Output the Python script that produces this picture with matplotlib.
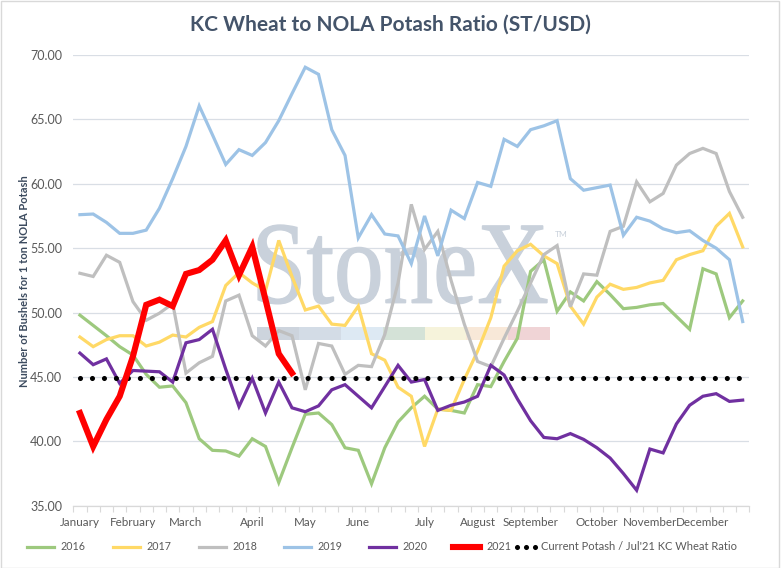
import matplotlib
matplotlib.use("Agg")
import matplotlib.pyplot as plt
import numpy as np
from matplotlib.lines import Line2D
from matplotlib.patches import Rectangle, PathPatch
from matplotlib.textpath import TextPath
from matplotlib.font_manager import FontProperties
from matplotlib.transforms import Affine2D, IdentityTransform

plt.rcParams['font.family'] = ['Lato', 'DejaVu Sans']

# ---------------- data ----------------
n_weeks = 51
month_names = ['January', 'February', 'March', 'April', 'May', 'June', 'July',
               'August', 'September', 'October', 'November', 'December']
month_pos = [0, 4, 8, 13, 17, 21, 26, 30, 34, 39, 43, 47]

y2016 = [49.8, 49.0, 48.2, 47.35, 46.7, 45.2, 44.2, 44.3, 43.0, 40.2, 39.3, 39.25, 38.85,
         40.2, 39.6, 36.8, 39.5, 42.1, 42.2, 41.3, 39.5, 39.3, 36.7, 39.5, 41.5, 42.6,
         43.5, 42.5, 42.4, 42.2, 44.4, 44.25, 46.2, 48.0, 53.2, 54.1, 50.1, 51.6, 50.9,
         52.4, 51.4, 50.3, 50.4, 50.6, 50.7, 49.7, 48.7, 53.4, 53.0, 49.6, 50.9]
y2017 = [48.1, 47.35, 47.9, 48.2, 48.2, 47.4, 47.7, 48.25, 48.1, 48.85, 49.3, 52.1, 53.1,
         52.3, 51.7, 55.6, 52.8, 50.2, 50.5, 49.1, 49.0, 50.5, 46.8, 46.3, 44.2, 43.5,
         39.6, 42.5, 42.4, 44.8, 47.0, 49.6, 53.6, 54.8, 55.3, 54.4, 53.8, 50.5, 49.1,
         51.2, 52.2, 51.8, 51.95, 52.3, 52.5, 54.1, 54.5, 54.8, 56.7, 57.7, 55.1]
y2018 = [53.05, 52.8, 54.45, 53.9, 50.85, 49.4, 49.95, 50.7, 45.3, 46.1, 46.6, 50.9, 51.35,
         48.2, 47.4, 48.6, 48.2, 44.0, 47.6, 47.4, 45.2, 45.9, 45.8, 48.3, 52.3, 58.4,
         54.9, 56.3, 52.5, 49.1, 46.2, 45.8, 48.0, 50.1, 52.3, 54.5, 55.2, 50.45, 53.0,
         52.9, 56.3, 56.7, 60.15, 58.6, 59.25, 61.45, 62.35, 62.75, 62.35, 59.4, 57.4]
y2019 = [57.6, 57.65, 57.0, 56.15, 56.15, 56.4, 58.1, 60.4, 62.9, 66.05, 63.8, 61.5, 62.65,
         62.2, 63.2, 64.9, 67.0, 69.05, 68.5, 64.2, 62.2, 55.8, 57.6, 56.1, 55.95, 53.8,
         57.5, 54.4, 57.95, 57.3, 60.1, 59.8, 63.45, 62.9, 64.2, 64.5, 64.9, 60.4, 59.5,
         59.7, 59.9, 56.0, 57.4, 57.1, 56.5, 56.2, 56.35, 55.6, 55.0, 54.1, 49.3]
y2020 = [46.85, 45.95, 46.4, 44.5, 45.5, 45.45, 45.4, 44.6, 47.65, 47.9, 48.7, 45.6, 42.7,
         44.9, 42.2, 44.6, 42.6, 42.3, 42.75, 44.0, 44.4, 43.5, 42.6, 44.25, 45.9, 44.6,
         44.8, 42.4, 42.8, 43.05, 43.5, 45.9, 45.15, 43.3, 41.6, 40.3, 40.2, 40.6, 40.15,
         39.5, 38.7, 37.5, 36.2, 39.4, 39.1, 41.35, 42.8, 43.5, 43.7, 43.1, 43.2]
y2021 = [42.2, 39.6, 41.7, 43.5, 46.6, 50.6, 51.0, 50.5, 53.0, 53.3, 54.1, 55.6, 52.9,
         55.1, 51.0, 46.8, 45.3]
current_ratio = 44.95

series_names = ['2016', '2017', '2018', '2019', '2020', '2021']
series_colors = ['#9DC97E', '#FFD966', '#BFBFBF', '#9DC3E6', '#7030A0', '#FF0000']
ratio_label = "Current Potash / Jul'21 KC Wheat Ratio"

# ---------------- figure ----------------
W, H = 782, 568
fig = plt.figure(figsize=(W / 100, H / 100), dpi=100)
fig.patch.set_facecolor('white')

ax_l, ax_r, ax_t, ax_b = 73.3, 749.3, 55.0, 505.7
ax = fig.add_axes([ax_l / W, 1 - ax_b / H, (ax_r - ax_l) / W, (ax_b - ax_t) / H])
ax.set_facecolor('none')

x = np.arange(n_weeks)
all_series = [y2016, y2017, y2018, y2019, y2020]
lw = 2.3
red_lw = 4.4
for vals, col in zip(all_series, series_colors[:5]):
    ax.plot(x[:len(vals)], vals, color=col, lw=lw, zorder=3, solid_joinstyle='miter')
ax.plot(x[:len(y2021)], y2021, color=series_colors[5], lw=red_lw, zorder=5,
        solid_joinstyle='miter')

dot_lw = 3.7
dot_style = (0, (0.001, 2.33))
ax.plot([x[0], x[-1]], [current_ratio, current_ratio], color='black', lw=dot_lw,
        linestyle=dot_style, dash_capstyle='round', zorder=4)

ax.set_xlim(-0.5, n_weeks - 0.5)
ax.set_ylim(35, 70)
ax.set_yticks(np.arange(35, 70.01, 5))
ax.set_yticklabels([f'{v:.2f}' for v in np.arange(35, 70.01, 5)])
ax.yaxis.grid(True, color='#D9DEE5', lw=0.9, zorder=0)
ax.set_axisbelow(True)
ax.set_xticks(month_pos)
ax.set_xticklabels(month_names)
ax.set_xticks(np.arange(-0.5, n_weeks, 1), minor=True)
ax.tick_params(axis='x', which='major', length=0, pad=8, labelsize=8.4, labelcolor='#595959')
ax.tick_params(axis='x', which='minor', length=4, width=0.8, color='#D9D9D9', direction='out')
ax.tick_params(axis='y', length=0, pad=8, labelsize=9, labelcolor='#595959')
for s in ['left', 'right', 'top']:
    ax.spines[s].set_visible(False)
ax.spines['bottom'].set_color('#D9D9D9')
ax.spines['bottom'].set_linewidth(0.9)

# ---------------- watermark ----------------
fp = FontProperties(family='Liberation Serif')
tp = TextPath((0, 0), "StoneX", size=100, prop=fp)
bb = tp.get_extents()
wx0, wx1 = 258.0, 547.0
w_base, w_top = H - 302.7, H - 225.0
sx = (wx1 - wx0) / bb.width
sy = (w_top - w_base) / bb.y1
tr = Affine2D().translate(-bb.x0, 0).scale(sx, sy).translate(wx0, w_base)
wm = PathPatch(tr.transform_path(tp), facecolor='#C9D1DB', edgecolor='#C9D1DB', lw=1.0,
               transform=IdentityTransform(), zorder=1)
ax.add_artist(wm)
ax.add_artist(plt.Text(555 / W, 1 - 237 / H, 'TM', fontsize=6, color='#C9D1DB',
                       transform=fig.transFigure, zorder=1))
bar_cols = ['#CDD4DD', '#D3DCE6', '#DDE9F3', '#D4E2D7', '#F6F3DB', '#F8E8D8', '#F0D4D6']
bx0, bx1 = 257.3, 550.0
seg = (bx1 - bx0) / len(bar_cols)
for k, c in enumerate(bar_cols):
    r = Rectangle(((bx0 + k * seg) / W, 1 - 340 / H), seg / W, 13 / H,
                  facecolor=c, edgecolor='none', transform=fig.transFigure, zorder=1)
    ax.add_artist(r)

# ---------------- texts ----------------
fig.text(390.5 / W, 1 - 25 / H, 'KC Wheat to NOLA Potash Ratio (ST/USD)',
         ha='center', va='center', fontsize=15, fontweight='bold', color='#44546A')
fig.text(25 / W, 1 - 281 / H, 'Number of Bushels for 1 ton NOLA Potash', rotation=90,
         ha='center', va='center', fontsize=8, fontweight='bold', color='#3B4A5E')

# ---------------- legend (placed manually, pixel positions) ----------------
leg_y = 1 - 547 / H
leg_line_x = [27, 113, 199, 284, 369, 453]
for k, (name, col) in enumerate(zip(series_names, series_colors)):
    x0 = leg_line_x[k]
    fig.add_artist(Line2D([x0 / W, (x0 + 27) / W], [leg_y, leg_y], color=col,
                          lw=red_lw if k == 5 else lw, transform=fig.transFigure))
    fig.text((x0 + 33) / W, leg_y, name, ha='left', va='center', fontsize=7.7,
             color='#595959')
fig.add_artist(Line2D([517 / W, 535 / W], [leg_y, leg_y], color='black', lw=dot_lw,
                      linestyle=(0, (0.001, 1.75)), dash_capstyle='round',
                      transform=fig.transFigure))
fig.text(541 / W, leg_y, ratio_label, ha='left', va='center', fontsize=8, color='#595959')

# ---------------- border ----------------
fig.add_artist(Rectangle((0.5 / W, 0.5 / H), (W - 4) / W, (H - 1.5) / H, fill=False,
                         edgecolor='#D9D9D9', lw=1, transform=fig.transFigure))

fig.savefig('out.png', dpi=100)
